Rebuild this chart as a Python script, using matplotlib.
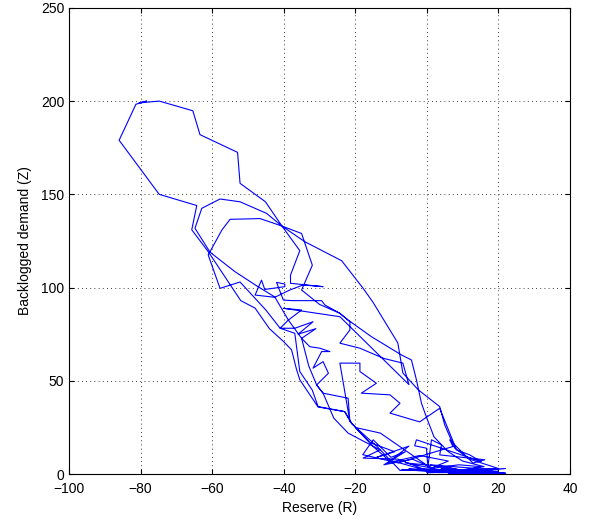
import numpy as np
import matplotlib.pyplot as plt

plt.rcParams['font.family'] = ['Liberation Sans', 'DejaVu Sans']

# trajectory: reserve R vs backlogged demand Z
R = [20, 8, 18, 4, 14, 22, 6, -3, 10, -7.5,
     # outer loop
     -14, -21, -23, -30.4, -35.5, -36.4, -37.8, -40, -44, -48, -52, -61, -65.7, -64.3,
     -74.8, -86, -82.5, -81.3, -78.3, -80.5, -74.8, -65.4, -63.4, -52.9, -52.2, -45.1,
     -40.5, -34.1, -23.8, -17.8, -15.1, -8.1, -6.7, -2.4, 3.6, 5, 7.8, 12, 20, 15,
     # second loop
     0, -8, -17.8, -13.1, -22, -26, -29, -30.8, -33, -35, -38.7, -42.5, -47.2, -53.6,
     -60.6, -64.8, -62.9, -57.8, -52.2, -44.8, -40.5, -35, -32, -35, -30, -24.3, -22,
     -15.5, -7.1, -4.3, -2.9, -1.5, 0, 2, 6, 10, 16, 9,
     # third loop
     -2, -10.8, -15, -21, -22.9, -30.4, -32, -35.5, -36.9, -41, -45, -52.2, -57.8,
     -61.1, -57.3, -55, -46.6, -40.5, -35.5, -38.1, -38.1, -29, -34.6, -38.3, -42.5,
     -48, -46.2, -45.3, -39.7, -39.7, -42,
     # middle zigzags
     -40.1, -37.4, -29.4, -28.5, -24.3, -21.5, -21.5, -24.3, -18.7, -12, -6.7, -5,
     -24.3, -40.1, -35, -38.7, -41, -36.9, -31.8, -36, -31, -35, -32.7, -29.9, -27.1,
     -29.4, -31.8, -29, -27.5, -30.8, -29, -22, -21.5,
     -24.3, -18.7, -18.7, -14.1, -18.3, -10.3, -7.5, -10.3, -2, 3.6, 8.3, 12, 15.2,
     # lower loops
     -2.9, -3.4, -0.1, 0.3, 1.3, 4.1, 3.6, 12, 16.2, 12.9, 6.4, 7.3, -8, -17.9, -15,
     -10, -6, -12, -4, 2, -6, 5, 10, 1, 14, 18, 8, 22, 12, 4, 16, 0, 20, 9, 14, 3,
     -13, -20, -16, -9, -14, -5, -11, -2, 6, 1, 9, 15, 11, 19, 13, 17,
     -7, 2, -5, 8, -3, 12, 0, 16, 5, 21, 3, 18, 7, 22, 10, 19,
     18, 6, 12, 22]
Z = [0.5, 2, 1, 3, 1.5, 0.3, 1.2, 2.5, 2, 2,
     15, 27, 33.5, 36, 50.6, 56, 66.6, 71, 78, 89, 93, 119, 131, 144,
     150, 179, 193.4, 198.3, 200, 199, 200, 194.8, 182, 172.5, 155.9, 146,
     133, 124.6, 114.4, 99.6, 92.3, 70.3, 54.2, 45.2, 36.2, 26.4, 13.9, 8, 3, 1,
     2, 8, 8.6, 13, 22, 30, 43.4, 47.8, 58, 72.8, 82.6, 95, 100.5, 108.5,
     119, 131.8, 142.5, 147.5, 146, 139.8, 133, 129, 112, 98.7, 91, 86.2, 82.6,
     73.7, 63.9, 61.2, 50.5, 38, 30, 20, 12, 7, 4, 2,
     3, 7.7, 14.8, 27.3, 33.5, 36.2, 45, 55, 75.5, 78.2, 88, 103, 99.6,
     117.5, 130.8, 136.6, 137, 133, 119.8, 106.7, 102.3, 100.5, 101.4, 98.7, 94.8,
     96, 104, 99, 100.5, 101.9, 102.8,
     93.3, 93, 93, 90.7, 86.2, 81.7, 77.3, 70.2, 67.5, 62, 59.5, 48,
     84.4, 88.9, 88, 82.6, 78.2, 78.2, 81.7, 75, 78, 72.8, 68.3, 67.5, 65.7,
     65.7, 56.8, 60.3, 54.1, 47.8, 43.4, 40.7, 28.2,
     59.5, 59.5, 55, 48.7, 43.4, 42.5, 38, 32.7, 28, 35.3, 13, 10.3, 6.7,
     18.4, 15.2, 13.9, 4, 18.4, 15.7, 10.3, 8.6, 7.7, 5.9, 18.4, 14.8, 6, 10.4, 18.4,
     9, 12, 5, 8, 3, 6, 4, 2, 5, 3, 2.5, 1.5, 3, 1, 2, 1.2, 0.8, 1.5, 0.6, 1, 0.8,
     22, 25, 17, 12, 9, 15, 6, 10, 7, 3, 5, 4, 2, 3, 1.5, 1,
     2.5, 1.2, 3, 1, 2.2, 0.8, 1.8, 1, 2, 0.6, 1.4, 0.9, 1.2, 0.5, 1, 0.7,
     0.5, 0.4, 0.6, 0.3]

fig = plt.figure(figsize=(5.9, 5.21), dpi=100)
ax = fig.add_axes([0.117, 0.09, 0.849, 0.895])

ax.plot(R, Z, color='blue', linewidth=0.8)

ax.set_xlim(-100, 40)
ax.set_ylim(0, 250)
ax.set_xticks(np.arange(-100, 41, 20))
ax.set_yticks(np.arange(0, 251, 50))
ax.grid(True, linestyle=(0, (1, 4)), color='black', linewidth=0.6)
ax.tick_params(direction='in', top=True, right=True, labelsize=10)
ax.tick_params(axis='x', pad=6)
ax.set_xlabel("Reserve (R)", fontsize=10, labelpad=3)
ax.set_ylabel("Backlogged demand (Z)", fontsize=10, labelpad=6)

plt.savefig('out.png', dpi=100)
